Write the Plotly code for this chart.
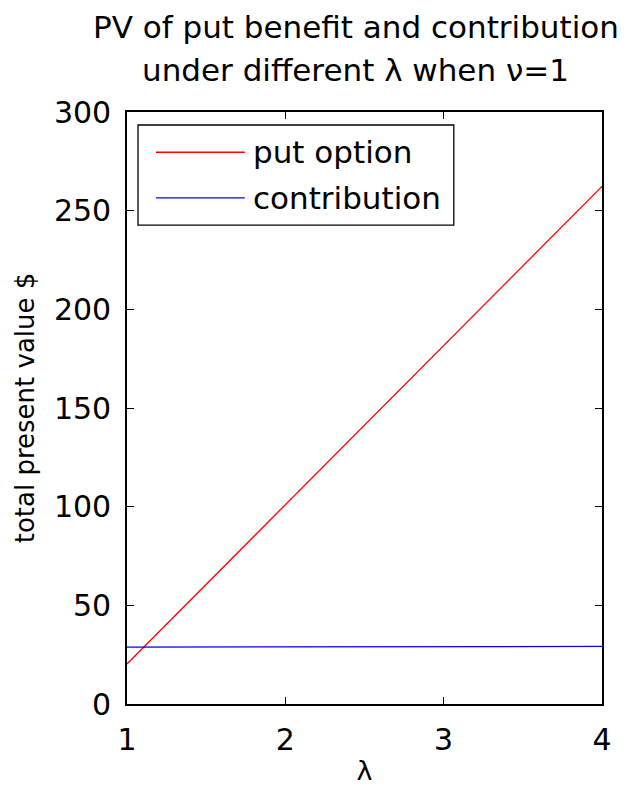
import plotly.graph_objects as go

lam = [1.0, 1.5, 2.0, 2.5, 3.0, 3.5, 4.0]
put_option = [20.3, 60.6, 101.0, 141.3, 181.6, 222.0, 262.3]
contribution = [28.8, 28.85, 28.9, 28.95, 29.0, 29.1, 29.2]
series_names = ["put option", "contribution"]
x_ticks = [1, 2, 3, 4]
y_ticks = [0, 50, 100, 150, 200, 250, 300]
title_lines = ["PV of put benefit and contribution", "under different λ when ν=1"]

FONT = "DejaVu Sans"
RED = "#ff0000"
BLUE = "#0000ff"

fig = go.Figure()
fig.add_trace(go.Scatter(x=lam, y=put_option, mode="lines", name=series_names[0],
                         line=dict(color=RED, width=1.3), showlegend=False))
fig.add_trace(go.Scatter(x=lam, y=contribution, mode="lines", name=series_names[1],
                         line=dict(color=BLUE, width=1.3), showlegend=False))

axis_common = dict(showgrid=False, zeroline=False, showline=True, linecolor="black",
                   linewidth=1.6, mirror="ticks", ticks="inside", ticklen=7,
                   tickwidth=1.2, tickcolor="black", automargin=False,
                   tickfont=dict(family=FONT, size=30, color="black"))

fig.update_xaxes(range=[1, 4], tickvals=x_ticks, ticktext=[str(v) for v in x_ticks],
                 ticklabelstandoff=8,
                 title=dict(text="λ", font=dict(family=FONT, size=27, color="black"), standoff=9),
                 **axis_common)
fig.update_yaxes(range=[0, 300], tickvals=y_ticks, ticktext=[str(v) for v in y_ticks],
                 ticklabelstandoff=8,
                 title=dict(text="total present value $", font=dict(family=FONT, size=26, color="black"),
                            standoff=12),
                 **axis_common)

# Manual legend box (MATLAB style)
fig.add_shape(type="rect", xref="paper", yref="paper", x0=0.0232, x1=0.688, y0=0.809, y1=0.978,
              line=dict(color="black", width=1.3), fillcolor="white", layer="above")
legend_y = [0.932, 0.855]
for name, col, yy in zip(series_names, [RED, BLUE], legend_y):
    fig.add_shape(type="line", xref="paper", yref="paper", x0=0.061, x1=0.248, y0=yy, y1=yy,
                  line=dict(color=col, width=1.3), layer="above")
    fig.add_annotation(xref="paper", yref="paper", x=0.262, y=yy, text=name, showarrow=False,
                       xanchor="left", yanchor="middle",
                       font=dict(family=FONT, size=31, color="black"))

# Title (two centered lines)
for txt, yy in zip(title_lines, [1.1436, 1.071]):
    fig.add_annotation(xref="paper", yref="paper", x=0.482, y=yy, text=txt, showarrow=False,
                       xanchor="center", yanchor="middle",
                       font=dict(family=FONT, size=31, color="black"))

fig.update_layout(
    width=637, height=786,
    margin=dict(l=127, r=35, t=112, b=82),
    paper_bgcolor="white", plot_bgcolor="white",
)

fig.write_html("out.html")
